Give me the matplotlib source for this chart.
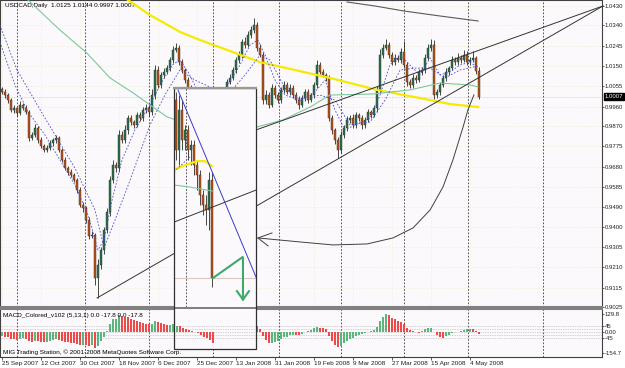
import numpy as np
import matplotlib
matplotlib.use("Agg")
import matplotlib.pyplot as plt
from matplotlib.patches import Rectangle
from matplotlib.lines import Line2D
from matplotlib.transforms import blended_transform_factory

plt.rcParams["font.family"] = ["Liberation Sans", "DejaVu Sans"]

# ---- daily USDCAD bars (bar index = position on chart) ----
first_open = 1.0040
closes = [
    1.0028, 1.0014, 0.9991, 0.9944, 0.9954, 0.9930, 0.9968, 0.9954, 0.9935, 0.9814,
    0.9828, 0.9860, 0.9804, 0.9776, 0.9758, 0.9767, 0.9790, 0.9804, 0.9814, 0.9758,
    0.9711, 0.9673, 0.9655, 0.9641, 0.9617, 0.9571, 0.9501, 0.9487, 0.9431, 0.9356,
    0.9361, 0.9160, 0.9221, 0.9290, 0.9384, 0.9468, 0.9617, 0.9687, 0.9673, 0.9828,
    0.9804, 0.9851, 0.9907, 0.9888, 0.9874, 0.9921, 0.9907, 0.9944, 0.9954, 0.9935,
    1.0014, 1.0131, 1.0061, 1.0108, 1.0122, 1.0140, 1.0178, 1.0225, 1.0234, 1.0168,
    1.0131, 1.0084, 1.0047, 1.0014, 0.9968, 0.9944, 0.9907, 0.9874, 0.9898, 0.9860,
    0.9888, 0.9921, 0.9944, 0.9968, 1.0014, 1.0075, 1.0094, 1.0131, 1.0178, 1.0201,
    1.0262, 1.0248, 1.0295, 1.0318, 1.0341, 1.0234, 1.0201, 0.9991, 1.0014, 0.9968,
    1.0047, 1.0014, 0.9991, 1.0038, 1.0061, 1.0028, 1.0047, 1.0014, 0.9991, 0.9968,
    1.0000, 1.0028, 0.9991, 1.0014, 1.0061, 1.0154, 1.0122, 1.0108, 1.0094, 0.9907,
    0.9851, 0.9804, 0.9758, 0.9828, 0.9860, 0.9898, 0.9907, 0.9874, 0.9921, 0.9907,
    0.9874, 0.9898, 0.9935, 0.9921, 0.9954, 1.0038, 1.0201, 1.0234, 1.0248, 1.0201,
    1.0168, 1.0187, 1.0178, 1.0215, 1.0154, 1.0075, 1.0061, 1.0094, 1.0084, 1.0122,
    1.0131, 1.0187, 1.0234, 1.0248, 1.0014, 1.0028, 1.0061, 1.0094, 1.0122, 1.0140,
    1.0178, 1.0168, 1.0187, 1.0178, 1.0201, 1.0168, 1.0178, 1.0187, 1.0125, 1.0007,
]
# wick lengths above / below the body, in pips
wick_up = [
    12, 15, 8, 10, 14, 6, 18, 10, 12, 8, 15, 20, 10, 12, 9, 16, 14, 10, 12, 8,
    10, 14, 8, 12, 10, 9, 15, 12, 10, 14, 18, 8, 25, 15, 12, 20, 18, 24, 15, 22,
    18, 25, 14, 12, 10, 16, 12, 14, 20, 12, 30, 25, 18, 15, 20, 14, 16, 18, 21, 12,
    14, 10, 12, 15, 10, 12, 10, 14, 12, 10, 15, 12, 14, 20, 15, 12, 18, 14, 16, 20,
    15, 22, 18, 20, 33, 15, 18, 12, 25, 15, 20, 14, 16, 12, 18, 14, 20, 12, 15, 18,
    14, 16, 12, 10, 15, 25, 14, 12, 10, 12, 15, 10, 14, 20, 12, 16, 14, 18, 12, 10,
    14, 12, 15, 10, 14, 18, 30, 20, 28, 16, 12, 18, 14, 20, 50, 15, 12, 20, 14, 16,
    15, 20, 18, 30, 25, 12, 15, 14, 18, 12, 20, 15, 22, 14, 25, 20, 15, 35, 8, 19,
]
wick_dn = [
    10, 12, 15, 8, 12, 14, 10, 12, 8, 15, 12, 10, 14, 10, 12, 9, 10, 12, 14, 10,
    12, 10, 14, 12, 10, 15, 12, 18, 14, 16, 10, 33, 94, 20, 18, 15, 20, 12, 18, 20,
    15, 12, 18, 14, 12, 10, 16, 12, 14, 18, 12, 20, 15, 12, 14, 10, 12, 15, 12, 14,
    12, 15, 10, 12, 14, 10, 12, 15, 10, 12, 14, 12, 10, 15, 12, 14, 10, 12, 15, 12,
    14, 12, 10, 15, 12, 14, 10, 20, 18, 15, 12, 14, 15, 12, 14, 10, 15, 12, 14, 20,
    12, 14, 15, 10, 12, 14, 10, 12, 15, 14, 18, 20, 38, 15, 14, 12, 16, 14, 12, 15,
    20, 14, 12, 15, 10, 18, 14, 12, 10, 15, 12, 14, 10, 12, 14, 18, 15, 12, 14, 10,
    12, 15, 10, 12, 20, 14, 12, 10, 15, 12, 10, 14, 12, 15, 10, 12, 14, 10, 12, 10,
]
# MACD_Colored (5,13,1) histogram
macd = [
    -30, -35, -40, -50, -52, -58, -50, -48, -52, -70,
    -72, -65, -70, -75, -78, -72, -65, -58, -52, -60,
    -68, -75, -78, -80, -82, -88, -95, -95, -98, -105,
    -95, -120, -100, -70, -35, 5, 60, 90, 95, 120,
    118, 110, 105, 95, 85, 80, 70, 65, 60, 55,
    60, 80, 70, 62, 55, 50, 52, 55, 48, 40,
    30, 20, 10, -5, -20, -35, -45, -50, -48, -45,
    -40, -30, -15, 5, 20, 35, 50, 60, 70, 72,
    75, 80, 78, 80, 82, 40, 20, -30, -60, -85,
    -80, -75, -70, -55, -40, -35, -25, -20, -22, -25,
    -15, -5, 5, 15, 25, 35, 30, 25, 18, -30,
    -70, -95, -110, -100, -85, -70, -55, -45, -30, -20,
    -15, -8, -2, 3, 10, 35, 80, 110, 130, 120,
    100, 90, 80, 72, 60, 30, 10, 5, -5, -8,
    8, 18, 28, 30, -5, -20, -40, -45, -30, -20,
    -10, -5, 0, 5, 15, 18, 22, 20, 5, -17.8,
]

date_labels = ["25 Sep 2007", "12 Oct 2007", "30 Oct 2007", "18 Nov 2007",
               "6 Dec 2007", "25 Dec 2007", "13 Jan 2008", "31 Jan 2008",
               "19 Feb 2008", "9 Mar 2008", "27 Mar 2008", "15 Apr 2008",
               "4 May 2008"]
date_bars = [0, 13, 26, 39, 52, 65, 78, 91, 104, 117, 130, 143, 156]
month_bars = [5, 27.7, 49, 70.3, 92.3, 113, 134, 155.3, 180.3]
price_ticks = [1.0430, 1.0340, 1.0245, 1.0150, 1.0055, 0.9960, 0.9870, 0.9775,
               0.9680, 0.9585, 0.9490, 0.9400, 0.9305, 0.9210, 0.9115, 0.9025]
macd_levels = [45, 20, 0, -20, -45]
macd_ticks = [129.8, 45, 0, -45, -154.7]
macd_tick_labels = ["129.8", "45", "0.00", "-45", "-154.7"]

# indicator lines (bar, price)
yellow_x = [32.7, 42, 49.3, 59.3, 66, 86, 109.3, 125, 139.3, 149.3, 158.7]
yellow_y = [1.0551, 1.0458, 1.0388, 1.0309, 1.0271, 1.0168, 1.0094, 1.0038, 1.0000, 0.9972, 0.9958]
green_x = [4.3, 8.7, 19.3, 28.3, 36, 43.7, 55, 66, 76, 85, 93.7, 102.7, 109.3, 123.7, 136, 146, 156, 158.7]
green_y = [1.0505, 1.0458, 1.0318, 1.0210, 1.0094, 1.0024, 0.9912, 0.9860, 0.9851, 0.9865,
           0.9898, 0.9958, 1.0014, 1.0019, 1.0038, 1.0070, 1.0061, 1.0052]
blue_a_x = [-0.7, 4.3, 8.7, 14.3, 19.3, 24.3, 28.7, 32, 34, 36.7, 40, 44.3, 49.3, 52.7, 56.7,
            59.3, 62, 66, 71, 75.3, 79.3, 82.7, 85.3, 87.7, 91, 94.3, 99.3, 104.3, 107.7, 111,
            114.3, 117.7, 122.7, 126, 129.3, 132.7, 136, 139.3, 142.7, 146, 149.3, 152.7, 156, 158.7]
blue_a_y = [1.0262, 1.0061, 0.9935, 0.9828, 0.9711, 0.9594, 0.9454, 0.9290, 0.9337, 0.9524,
            0.9711, 0.9851, 0.9968, 1.0061, 1.0154, 1.0178, 1.0122, 1.0014, 0.9944, 1.0061,
            1.0154, 1.0248, 1.0271, 1.0201, 1.0084, 1.0014, 0.9991, 1.0028, 1.0084, 0.9944,
            0.9851, 0.9874, 0.9907, 1.0014, 1.0154, 1.0201, 1.0154, 1.0108, 1.0187, 1.0108,
            1.0122, 1.0154, 1.0168, 1.0140]
blue_b_x = [-0.7, 5, 14.3, 24.3, 31, 34, 37.7, 42.7, 49.3, 54.3, 59.3, 64.3, 75.3, 81, 86,
            89.3, 94.3, 99.3, 106, 111, 116, 122.7, 127.7, 132.7, 137.7, 142.7, 147.7, 152.7, 158.7]
blue_b_y = [1.0341, 1.0131, 0.9907, 0.9673, 0.9477, 0.9300, 0.9431, 0.9617, 0.9874, 1.0014,
            1.0131, 1.0084, 1.0014, 1.0108, 1.0201, 1.0178, 1.0047, 0.9991, 1.0014, 0.9991,
            0.9874, 0.9888, 0.9991, 1.0131, 1.0140, 1.0140, 1.0094, 1.0131, 1.0150]

# hand drawn objects (bar, price)
trend_low = ([31.67, 200.3], [0.9066, 1.0430])
trend_high = ([84.67, 200.3], [0.9851, 1.0430])
arc_top = ([115, 124.3, 134, 146, 158.7], [1.04487, 1.0430, 1.04066, 1.03833, 1.03599])
curve_x = [157.3, 155.3, 153.7, 150.3, 147, 142.7, 137, 130.3, 121.7, 110.3, 99.3, 85.3]
curve_y = [1.00144, 0.99443, 0.98649, 0.97107, 0.95847, 0.94773, 0.93932, 0.93465,
           0.93185, 0.93139, 0.93279, 0.93465]
curve_head_x = [90, 85.3, 88.7]
curve_head_y = [0.93699, 0.93465, 0.93092]

# zoomed inset (its own bar index and price scale)
in_open = [1.0214, 1.0066, 1.0185, 1.0096, 1.0125, 1.0066, 1.0081, 1.0021, 0.9992, 0.9932, 0.9902, 0.9887, 0.9977]
in_close = [1.0066, 1.0185, 1.0096, 1.0125, 1.0066, 1.0081, 1.0021, 0.9992, 0.9932, 0.9902, 0.9887, 0.9977, 0.9686]
in_high = [1.0238, 1.0229, 1.0214, 1.0140, 1.0140, 1.0096, 1.0096, 1.0036, 1.0007, 0.9947, 0.9932, 1.0001, 1.0001]
in_low = [1.0036, 1.0021, 1.0066, 1.0066, 1.0036, 1.0021, 0.9992, 0.9947, 0.9902, 0.9873, 0.9843, 0.9828, 0.9659]
in_macd = [45, 40, 30, 22, 15, 8, 0, -10, -22, -35, -48, -62, -80]
in_blue = ([0.67, 26.67], [1.0244, 0.9689])
in_blue_dash = ([-0.67, 4.67], [1.0001, 1.0046])
in_yellow = ([-1, 3, 7, 9.67, 12], [1.0007, 1.0021, 1.0033, 1.0033, 1.0018])
in_green = ([-0.67, 4.67, 10.33, 12.33], [0.9962, 0.9956, 0.9947, 0.9944])
in_trend = ([-0.67, 26.67], [0.9852, 0.9947])
in_level = 0.9686
in_arrow = ([12.33, 22.33, 22.33], [0.9686, 0.9749, 0.9622])
in_arrow_head = ([20.33, 22.33, 24.33], [0.9647, 0.9622, 0.9647])

BG = "#FBF9FC"
GRID = "#E9E3AE"
BULL = "#2E6E4E"
BEAR = "#B5561E"
WICK = "#2A2A2A"
FS = 4.6
FS_AXIS = 4.3
W, H = 625, 368


def fig_rect(x0, y0, x1, y1):
    return [x0 / W, 1 - y1 / H, (x1 - x0) / W, (y1 - y0) / H]


def build_ohlc():
    c = np.array(closes)
    o = np.concatenate([[first_open], c[:-1]])
    h = np.maximum(o, c) + np.array(wick_up) / 10000
    l = np.minimum(o, c) - np.array(wick_dn) / 10000
    return o, h, l, c


def draw_candles(ax, x, o, h, l, c, width=0.6):
    x = np.asarray(x, dtype=float)
    o, h, l, c = map(np.asarray, (o, h, l, c))
    ax.vlines(x, l, h, color=WICK, lw=0.6, zorder=3)
    up = c >= o
    body = np.maximum(np.abs(c - o), 0.0003)
    ax.bar(x[up], body[up], bottom=o[up], width=width, color=BULL,
           edgecolor="#1C3C2C", lw=0.3, zorder=4)
    ax.bar(x[~up], body[~up], bottom=c[~up], width=width, color=BEAR,
           edgecolor="#4A2410", lw=0.3, zorder=4)


def draw_macd_bars(ax, x, values):
    v = np.asarray(values, dtype=float)
    prev = np.concatenate([[v[0]], v[:-1]])
    colors = np.where(v >= prev, "#5DB57E", "#EE4A4A")
    ax.bar(x, v, width=0.4, color=colors, zorder=3)
    for lvl in macd_levels:
        ax.axhline(lvl, color="#A8A8A8", lw=0.5, ls=(0, (1, 1.5)), zorder=2)


def price_panel(fig, o, h, l, c):
    ax = fig.add_axes(fig_rect(0, 0, 602, 307))
    ax.set_facecolor(BG)
    x = np.arange(len(c))
    ax.set_xlim(-0.667, 200)
    ax.set_ylim(0.9024, 1.0458)

    for p in price_ticks:
        ax.axhline(p, color=GRID, lw=0.5, ls=(0, (1, 3)), zorder=1)
    for b in date_bars:
        ax.axvline(b, color=GRID, lw=0.5, ls=(0, (1, 3)), zorder=1)
    for b in month_bars:
        ax.axvline(b, color="#383838", lw=0.6, ls=(0, (2, 2)), zorder=2)

    ax.axhline(c[-1], color="#E2C4C4", lw=0.6, ls=(0, (1, 1)), zorder=2)

    ax.plot(yellow_x, yellow_y, color="#F7EA00", lw=1.6, zorder=5)
    ax.plot(green_x, green_y, color="#7CC99A", lw=0.8, zorder=5)
    ax.plot(blue_a_x, blue_a_y, color="#4A4AD0", lw=0.6, ls=(0, (2, 2)), zorder=5)
    ax.plot(blue_b_x, blue_b_y, color="#4A4AD0", lw=0.6, ls=(0, (2, 2)), zorder=5)

    draw_candles(ax, x, o, h, l, c)

    ax.plot(*trend_low, color="#333333", lw=0.7, zorder=6, clip_on=False)
    ax.plot(*trend_high, color="#333333", lw=0.7, zorder=6, clip_on=False)
    ax.plot(*arc_top, color="#5A5A5A", lw=0.8, zorder=6)
    ax.plot(curve_x, curve_y, color="#404040", lw=0.7, zorder=6)
    ax.plot(curve_head_x, curve_head_y, color="#404040", lw=0.7, zorder=6)

    ax.yaxis.tick_right()
    ax.set_yticks(price_ticks)
    ax.set_yticklabels([f"{p:.4f}" for p in price_ticks])
    ax.tick_params(axis="y", length=1.5, width=0.5, pad=0.6, labelsize=FS_AXIS,
                   colors="#202020")
    ax.set_xticks([])
    for side in ["left", "right", "top"]:
        ax.spines[side].set_color("#404040")
        ax.spines[side].set_linewidth(0.8)
    ax.spines["bottom"].set_color("#808080")
    ax.spines["bottom"].set_linewidth(1.5)

    ax.text(0.008, 0.981,
            f"USDCAD,Daily  {o[-1]:.4f} {h[-1]:.4f} {l[-1]:.4f} {c[-1]:.4f}",
            transform=ax.transAxes, fontsize=FS, va="center", ha="left")
    trans = blended_transform_factory(ax.transAxes, ax.transData)
    ax.text(1.004, c[-1], f"{c[-1]:.4f}", transform=trans, fontsize=FS_AXIS,
            va="center", ha="left", color="white",
            bbox=dict(facecolor="black", edgecolor="black", pad=0.6))
    return ax


def macd_panel(fig):
    ax = fig.add_axes(fig_rect(0, 309, 602, 357))
    ax.set_facecolor(BG)
    ax.set_xlim(-0.667, 200)
    ax.set_ylim(-183.9, 166.3)
    for b in month_bars:
        ax.axvline(b, color="#383838", lw=0.6, ls=(0, (2, 2)), zorder=2)
    draw_macd_bars(ax, np.arange(len(macd)), macd)

    ax.yaxis.tick_right()
    ax.set_yticks(macd_ticks)
    ax.set_yticklabels(macd_tick_labels)
    ax.tick_params(axis="y", length=1.5, width=0.5, pad=0.6, labelsize=FS_AXIS,
                   colors="#202020")
    ax.set_xticks(date_bars)
    ax.set_xticklabels(date_labels)
    ax.tick_params(axis="x", length=2, width=0.5, pad=0.8, labelsize=FS,
                   colors="#202020")
    for lab in ax.get_xticklabels():
        lab.set_ha("left")
    for side in ["left", "right", "bottom"]:
        ax.spines[side].set_color("#404040")
        ax.spines[side].set_linewidth(0.8)
    ax.spines["top"].set_color("#808080")
    ax.spines["top"].set_linewidth(1.5)

    ax.text(0.005, 0.86,
            f"MACD_Colored_v102 (5,13,1) 0.0 {macd[-1]:.1f} 0.0 {macd[-1]:.1f}",
            transform=ax.transAxes, fontsize=FS, va="center", ha="left")
    ax.text(0.005, 0.10,
            "MIG Trading Station, \u00a9 2001-2008 MetaQuotes Software Corp.",
            transform=ax.transAxes, fontsize=FS, va="center", ha="left")
    return ax


def inset_panels(fig):
    ins = fig.add_axes(fig_rect(174, 88, 256, 307), zorder=5)
    ins.set_facecolor(BG)
    ins.set_xlim(-0.667, 26.67)
    ins.set_ylim(0.9600, 1.0250)
    ins.axvline(3.33, color="#383838", lw=0.6, ls=(0, (2, 2)), zorder=2)
    ins.axhline(in_level, color="#D8C8C8", lw=0.8, zorder=2)
    ins.plot(*in_yellow, color="#F7EA00", lw=1.6, zorder=5)
    ins.plot(*in_green, color="#7CC99A", lw=0.8, zorder=5)
    ins.plot(*in_blue_dash, color="#4A4AD0", lw=0.6, ls=(0, (2, 2)), zorder=5)
    ins.plot(*in_trend, color="#333333", lw=0.7, zorder=5)
    draw_candles(ins, np.arange(len(in_close)), in_open, in_high, in_low, in_close)
    ins.plot(*in_blue, color="#3A3AD0", lw=0.7, zorder=6)
    ins.plot(*in_arrow, color="#3DAA68", lw=1.5, zorder=7, solid_joinstyle="miter")
    ins.plot(*in_arrow_head, color="#3DAA68", lw=1.5, zorder=7)
    ins.set_xticks([])
    ins.set_yticks([])
    for s in ins.spines.values():
        s.set_visible(False)

    ins_m = fig.add_axes(fig_rect(174, 309, 256, 349), zorder=5)
    ins_m.set_facecolor(BG)
    ins_m.set_xlim(-0.667, 26.67)
    ins_m.set_ylim(-125.5, 166.3)
    draw_macd_bars(ins_m, np.arange(len(in_macd)) + 0.33, in_macd)
    ins_m.set_xticks([])
    ins_m.set_yticks([])
    for s in ins_m.spines.values():
        s.set_visible(False)

    box = Rectangle((174 / W, 1 - 349 / H), 82 / W, 261 / H,
                    transform=fig.transFigure, fill=False,
                    edgecolor="#303030", lw=0.9, zorder=10)
    fig.add_artist(box)
    top = Line2D([174 / W, 256 / W], [1 - 88 / H, 1 - 88 / H],
                 transform=fig.transFigure, color="#9A9A9A", lw=1.6, zorder=11)
    fig.add_artist(top)


def main():
    o, h, l, c = build_ohlc()
    fig = plt.figure(figsize=(6.25, 3.68), dpi=100, facecolor="white")
    price_panel(fig, o, h, l, c)
    macd_panel(fig)
    inset_panels(fig)
    fig.savefig("out.png", dpi=100, facecolor="white")


if __name__ == "__main__":
    main()
